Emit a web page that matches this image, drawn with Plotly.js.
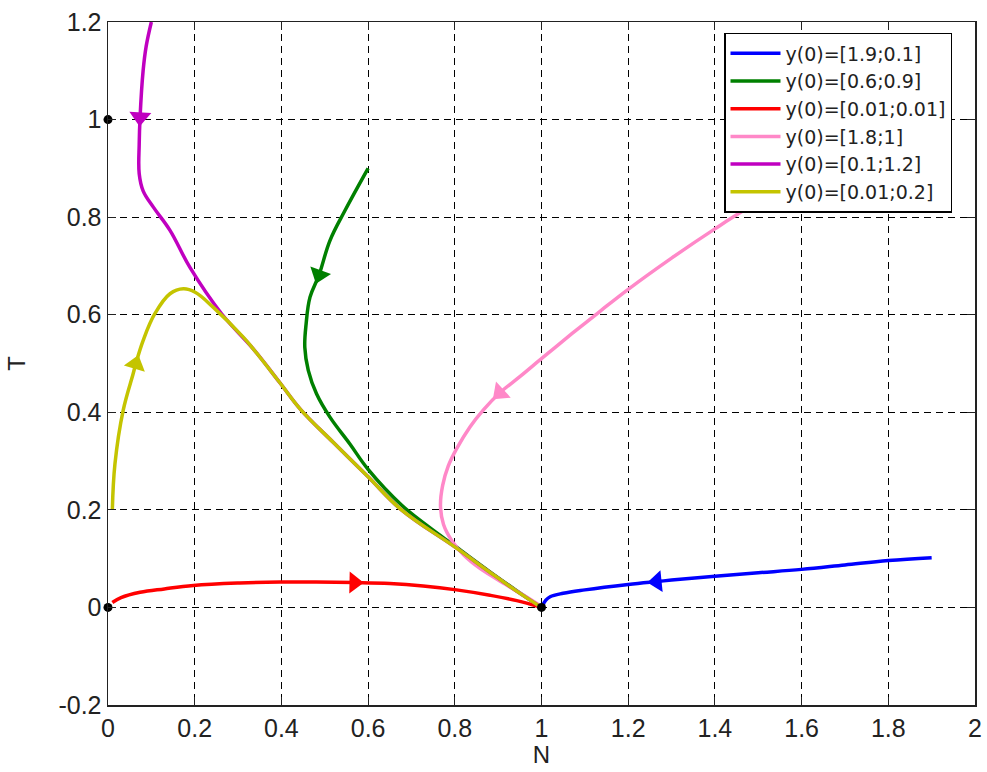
<!DOCTYPE html>
<html>
<head>
<meta charset="utf-8">
<script src="https://cdn.plot.ly/plotly-3.0.1.min.js"></script>
<style>html,body{margin:0;padding:0;background:#fff;}#chart{width:987px;height:772px;}</style>
</head>
<body>
<div id="chart"></div>
<script>
// ---- data (N, T trajectories) ----
const seriesNames = ["y(0)=[1.9;0.1]", "y(0)=[0.6;0.9]", "y(0)=[0.01;0.01]", "y(0)=[1.8;1]", "y(0)=[0.1;1.2]", "y(0)=[0.01;0.2]"];
const seriesColors = ["#0000ff", "#008000", "#ff0000", "#ff88c8", "#c000c0", "#c4c400"];

const blueN = [1.9, 1.8, 1.7, 1.6, 1.5, 1.4, 1.3, 1.266, 1.2, 1.1, 1.05, 1.02, 1.01, 1.0];
const blueT = [0.102, 0.096, 0.087, 0.078, 0.071, 0.064, 0.056, 0.053, 0.047, 0.036, 0.029, 0.022, 0.015, 0.0];
const blueArrow = 7;

const greenN = [0.6, 0.547, 0.512, 0.487, 0.466, 0.457, 0.454, 0.462, 0.481, 0.512, 0.558, 0.6, 0.677, 0.74, 0.8, 0.881, 0.94, 1.0];
const greenT = [0.9, 0.814, 0.752, 0.682, 0.636, 0.581, 0.533, 0.486, 0.438, 0.39, 0.335, 0.283, 0.21, 0.165, 0.126, 0.073, 0.036, 0.0];
const greenArrow = 3;

const redN = [0.01, 0.03, 0.074, 0.13, 0.197, 0.304, 0.397, 0.48, 0.568, 0.65, 0.727, 0.804, 0.881, 0.943, 1.0];
const redT = [0.01, 0.02, 0.031, 0.038, 0.045, 0.050, 0.052, 0.052, 0.051, 0.049, 0.044, 0.036, 0.025, 0.014, 0.0];
const redArrow = 8;

const pinkN = [1.8, 1.7, 1.6, 1.473, 1.4, 1.3, 1.2, 1.135, 1.07, 1.004, 0.95, 0.904, 0.866, 0.835, 0.804, 0.785, 0.772, 0.767, 0.774, 0.793, 0.82, 0.858, 0.927, 0.989, 1.0];
const pinkT = [1.0, 0.94, 0.88, 0.817, 0.776, 0.716, 0.652, 0.607, 0.561, 0.513, 0.473, 0.44, 0.405, 0.37, 0.325, 0.29, 0.25, 0.208, 0.17, 0.137, 0.108, 0.08, 0.042, 0.008, 0.0];
const pinkArrow = 11;

const purpleN = [0.1, 0.088, 0.081, 0.074, 0.072, 0.072, 0.081, 0.105, 0.143, 0.189, 0.262, 0.335, 0.397, 0.445, 0.52, 0.6, 0.677, 0.8, 0.881, 0.94, 1.0];
const purpleT = [1.2, 1.15, 1.1, 1.005, 0.95, 0.889, 0.854, 0.820, 0.773, 0.697, 0.602, 0.53, 0.46, 0.405, 0.338, 0.268, 0.2, 0.124, 0.072, 0.035, 0.0];
const purpleArrow = 3;

const yellowN = [0.01, 0.016, 0.035, 0.058, 0.064, 0.081, 0.108, 0.143, 0.174, 0.201, 0.243, 0.312, 0.335, 0.397, 0.445, 0.52, 0.6, 0.677, 0.8, 0.881, 0.94, 1.0];
const yellowT = [0.2, 0.294, 0.404, 0.479, 0.499, 0.547, 0.602, 0.643, 0.653, 0.646, 0.615, 0.554, 0.53, 0.46, 0.405, 0.338, 0.268, 0.2, 0.124, 0.072, 0.035, 0.0];
const yellowArrow = 4;

const eqN = [0, 1, 0];
const eqT = [0, 0, 1];

const xTickVals = [0, 0.2, 0.4, 0.6, 0.8, 1, 1.2, 1.4, 1.6, 1.8, 2];
const xTickText = ["0", "0.2", "0.4", "0.6", "0.8", "1", "1.2", "1.4", "1.6", "1.8", "2"];
const yTickVals = [-0.2, 0, 0.2, 0.4, 0.6, 0.8, 1, 1.2];
const yTickText = ["-0.2", "0", "0.2", "0.4", "0.6", "0.8", "1", "1.2"];

// ---- build traces ----
const W = 987, H = 772;
const margin = {l: 108, r: 12, t: 22, b: 67};
const xRange = [0, 2], yRange = [-0.2, 1.2];
const sx = (W - margin.l - margin.r) / (xRange[1] - xRange[0]);
const sy = (H - margin.t - margin.b) / (yRange[1] - yRange[0]);

const allN = [blueN, greenN, redN, pinkN, purpleN, yellowN];
const allT = [blueT, greenT, redT, pinkT, purpleT, yellowT];
const arrows = [blueArrow, greenArrow, redArrow, pinkArrow, purpleArrow, yellowArrow];

const traces = [];
for (let i = 0; i < allN.length; i++) {
  traces.push({
    type: "scatter", mode: "lines", name: seriesNames[i],
    x: allN[i], y: allT[i],
    line: {color: seriesColors[i], width: 3.5, shape: "spline", smoothing: 1.1},
    hoverinfo: "skip"
  });
}
for (let i = 0; i < allN.length; i++) {
  const k = arrows[i], xs = allN[i], ys = allT[i];
  const dN = xs[k + 1] - xs[k - 1], dT = ys[k + 1] - ys[k - 1];
  const ang = Math.atan2(dN * sx, dT * sy) * 180 / Math.PI;
  traces.push({
    type: "scatter", mode: "markers", showlegend: false, hoverinfo: "skip",
    x: [xs[k]], y: [ys[k]],
    marker: {symbol: "triangle-up", size: 19, color: seriesColors[i], angle: ang, line: {width: 0}}
  });
}
traces.push({
  type: "scatter", mode: "markers", showlegend: false, hoverinfo: "skip",
  x: eqN, y: eqT, cliponaxis: false,
  marker: {symbol: "circle", size: 9, color: "#000"}
});

const axisCommon = {
  showline: true, linecolor: "#222", linewidth: 1.5, mirror: "ticks",
  ticks: "inside", ticklen: 8, tickcolor: "#222", tickwidth: 1,
  showgrid: true, gridcolor: "#000", gridwidth: 1, griddash: "7px,5px",
  zeroline: false, tickmode: "array",
  tickfont: {family: "Liberation Sans, Arial, sans-serif", size: 25, color: "#222"}
};

const layout = {
  width: W, height: H, margin: margin,
  paper_bgcolor: "#fff", plot_bgcolor: "#fff",
  font: {family: "Liberation Sans, Arial, sans-serif", color: "#222"},
  xaxis: Object.assign({}, axisCommon, {
    range: xRange, tickvals: xTickVals, ticktext: xTickText,
    title: {text: "N", font: {size: 24}, standoff: 2}
  }),
  yaxis: Object.assign({}, axisCommon, {
    range: yRange, tickvals: yTickVals, ticktext: yTickText,
    title: {text: "T", font: {size: 24}, standoff: 26}
  }),
  legend: {
    x: 0.7105, y: 0.984, xanchor: "left", yanchor: "top",
    bgcolor: "#fff", bordercolor: "#000", borderwidth: 1.5,
    itemwidth: 50, tracegroupgap: 0,
    font: {family: "DejaVu Sans, Liberation Sans, sans-serif", size: 19, color: "#222"}
  },
  showlegend: true
};

Plotly.newPlot("chart", traces, layout, {staticPlot: true, displayModeBar: false});
</script>
</body>
</html>
